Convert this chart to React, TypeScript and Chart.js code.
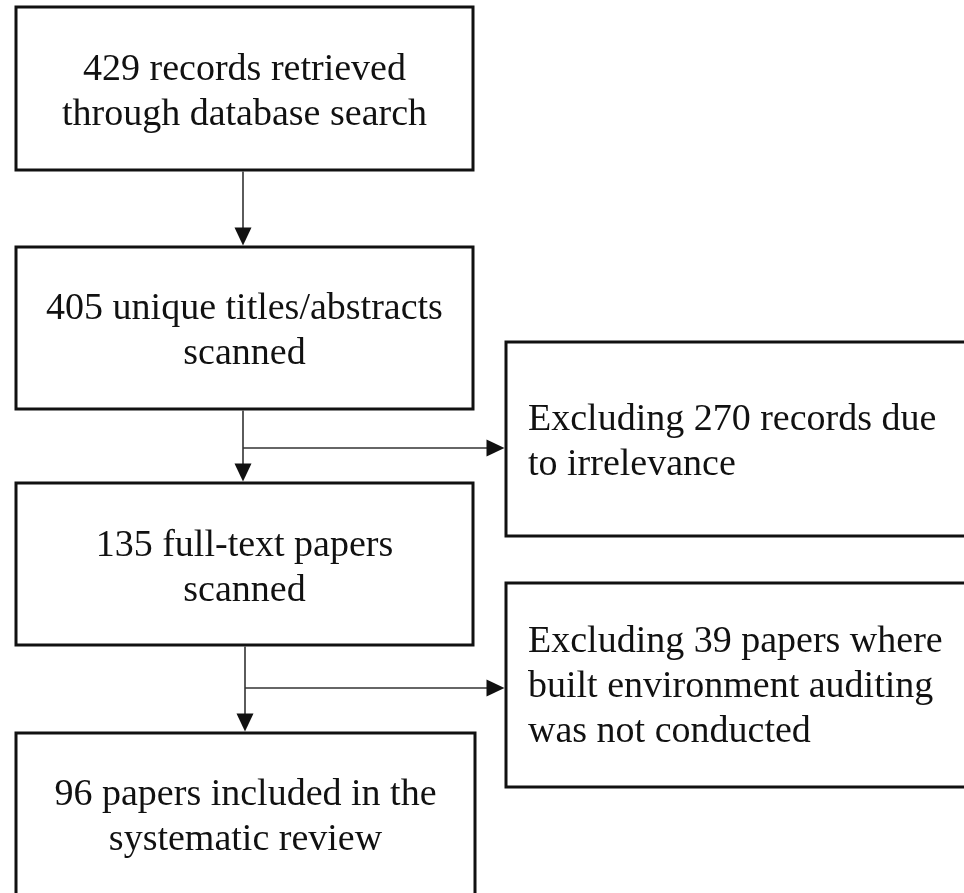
import { useEffect, useRef } from 'react';
import { Chart, registerables } from 'chart.js';

Chart.register(...registerables);

// ---- data ----
const stageCounts = [429, 405, 135, 96];
const stageText = [
  ['{n} records retrieved', 'through database search'],
  ['{n} unique titles/abstracts', 'scanned'],
  ['{n} full-text papers', 'scanned'],
  ['{n} papers included in the', 'systematic review'],
];
const exclusionCounts = [270, 39];
const exclusionText = [
  ['Excluding {n} records due', 'to irrelevance'],
  ['Excluding {n} papers where', 'built environment auditing', 'was not conducted'],
];

// ---- layout (scale units) ----
const stageBoxes = [
  { x0: 16, x1: 473, y0: 7, y1: 170, base: 80 },
  { x0: 16, x1: 473, y0: 247, y1: 409, base: 319 },
  { x0: 16, x1: 473, y0: 483, y1: 645, base: 556 },
  { x0: 16, x1: 475, y0: 733, y1: 905, base: 805 },
];
const exclusionBoxes = [
  { x0: 506, x1: 990, y0: 342, y1: 536, base: 430, textX: 528 },
  { x0: 506, x1: 990, y0: 583, y1: 787, base: 652, textX: 528 },
];
const flowX = [243, 243, 245];
const branchY = [null, 448, 688];
const LINE_H = 45;

const flowPlugin = {
  id: 'flow',
  afterDraw(chart: any) {
    const ctx = chart.ctx as CanvasRenderingContext2D;
    const xs = chart.scales.x;
    const ys = chart.scales.y;
    const X = (v: number) => xs.getPixelForValue(v);
    const Y = (v: number) => ys.getPixelForValue(v);
    ctx.save();
    ctx.fillStyle = '#ffffff';
    ctx.fillRect(0, 0, chart.width, chart.height);

    const drawBox = (b: any) => {
      ctx.strokeStyle = '#111111';
      ctx.lineWidth = 3;
      ctx.strokeRect(X(b.x0), Y(b.y0), X(b.x1) - X(b.x0), Y(b.y1) - Y(b.y0));
    };
    const arrowDown = (x: number, y: number) => {
      ctx.beginPath();
      ctx.moveTo(X(x), Y(y));
      ctx.lineTo(X(x) - 8.5, Y(y) - 18);
      ctx.lineTo(X(x) + 8.5, Y(y) - 18);
      ctx.closePath();
      ctx.fill();
    };
    const arrowRight = (x: number, y: number) => {
      ctx.beginPath();
      ctx.moveTo(X(x), Y(y));
      ctx.lineTo(X(x) - 18, Y(y) - 8.5);
      ctx.lineTo(X(x) - 18, Y(y) + 8.5);
      ctx.closePath();
      ctx.fill();
    };

    ctx.font = '38px "Liberation Serif", "Times New Roman", serif';
    ctx.textBaseline = 'alphabetic';

    stageBoxes.forEach((b, i) => {
      drawBox(b);
      ctx.fillStyle = '#111111';
      ctx.textAlign = 'center';
      const cx = X((b.x0 + b.x1) / 2);
      stageText[i].forEach((line, j) => {
        ctx.fillText(line.replace('{n}', String(stageCounts[i])), cx, Y(b.base + j * LINE_H));
      });
    });

    exclusionBoxes.forEach((b, i) => {
      drawBox(b);
      ctx.fillStyle = '#111111';
      ctx.textAlign = 'left';
      exclusionText[i].forEach((line, j) => {
        ctx.fillText(line.replace('{n}', String(exclusionCounts[i])), X(b.textX), Y(b.base + j * LINE_H));
      });
    });

    // connectors
    ctx.strokeStyle = '#333333';
    ctx.fillStyle = '#111111';
    ctx.lineWidth = 1.6;
    for (let i = 0; i < stageBoxes.length - 1; i++) {
      const x = flowX[i];
      const top = stageBoxes[i].y1 + 1.5;
      const bottom = stageBoxes[i + 1].y0 - 1.5;
      ctx.beginPath();
      ctx.moveTo(X(x), Y(top));
      ctx.lineTo(X(x), Y(bottom) - 16);
      ctx.stroke();
      arrowDown(x, bottom);
      const by = branchY[i];
      if (by !== null) {
        const ex = exclusionBoxes[i - 1];
        const tip = ex.x0 - 1.5;
        ctx.beginPath();
        ctx.moveTo(X(x), Y(by));
        ctx.lineTo(X(tip) - 16, Y(by));
        ctx.stroke();
        arrowRight(tip, by);
      }
    }
    ctx.restore();
  },
};

export default function App() {
  const ref = useRef<HTMLCanvasElement | null>(null);
  useEffect(() => {
    if (!ref.current) return;
    const chart = new Chart(ref.current, {
      type: 'scatter',
      data: { datasets: [{ data: [], pointRadius: 0 }] },
      options: {
        animation: false,
        responsive: true,
        maintainAspectRatio: false,
        layout: { padding: 0 },
        plugins: { legend: { display: false }, tooltip: { enabled: false } },
        scales: {
          x: { type: 'linear', min: 0, max: 964, display: false },
          y: { type: 'linear', min: 0, max: 893, reverse: true, display: false },
        },
      },
      plugins: [flowPlugin],
    });
    return () => chart.destroy();
  }, []);
  return (
    <div style={{ position: 'fixed', left: 0, top: 0, width: 964, height: 893, background: '#fff' }}>
      <canvas ref={ref} />
    </div>
  );
}
